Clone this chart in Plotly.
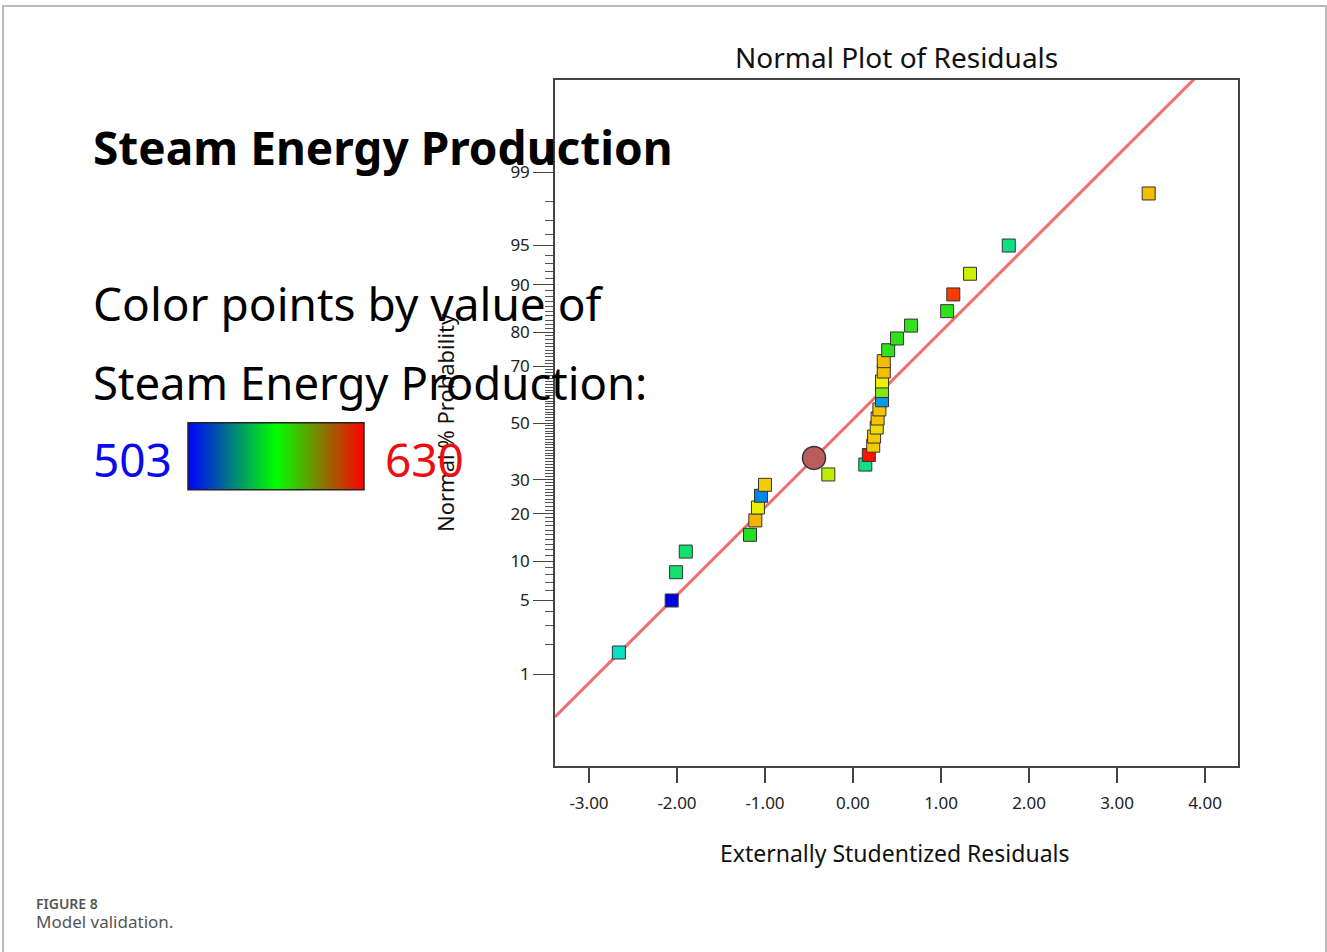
import plotly.graph_objects as go
from statistics import NormalDist

# ---------------- data ----------------
# Externally studentized residuals (x) of the 30 runs, in rank order
residuals = [-2.66, -2.06, -2.01, -1.90, -1.17, -1.11, -1.08, -1.045, -1.00, -0.28,
             0.14, 0.18, 0.23, 0.24, 0.27, 0.28, 0.30, 0.33, 0.33, 0.33,
             0.35, 0.35, 0.40, 0.50, 0.66, 1.07, 1.14, 1.33, 1.77, 3.36]
# Normal % probability of each point
probability = [1.67, 5.0, 8.33, 11.67, 15.0, 18.33, 21.67, 25.0, 28.33, 31.67,
               35.0, 38.33, 41.67, 45.0, 48.33, 51.67, 55.0, 58.33, 61.67, 65.0,
               68.33, 71.67, 75.0, 78.33, 81.67, 85.0, 88.33, 91.67, 95.0, 98.33]
# Steam Energy Production value used to colour each point
steam_energy = [541, 503, 554, 554, 566, 606, 597, 522, 603, 591,
                551, 628, 603, 603, 601, 604, 604, 525, 582, 598,
                605, 605, 569, 569, 569, 569, 622, 593, 551, 605]

# highlighted point (circle)
circle_residual = [-0.443]
circle_probability = [37.3]

# normal reference line  (z = intercept + slope * residual)
line_slope = 0.814
line_intercept = 0.032

color_min, color_max = 503, 630

x_ticks = [-3, -2, -1, 0, 1, 2, 3, 4]
y_tick_pct = [1, 5, 10, 20, 30, 50, 70, 80, 90, 95, 99]
y_minor_pct = [p for p in range(2, 99) if p not in y_tick_pct]

# ---------------- helpers ----------------
nd = NormalDist()
def probit(p):
    return nd.inv_cdf(p / 100.0)

W, H = 1327, 952
L, R, T, B = 555, 1238, 80, 766
def px2x(px):
    return (px - L) / (R - L)
def py2y(py):
    return (B - py) / (B - T)

x_range = [-3.386, 4.375]
y_range = [-3.179, 3.179]

FONT = "Noto Sans"

point_scale = [[0.0, "rgb(0,0,230)"], [0.25, "rgb(0,225,235)"], [0.5, "rgb(30,225,30)"],
               [0.75, "rgb(240,240,0)"], [1.0, "rgb(255,0,0)"]]
legend_scale = [[0.0, "rgb(0,0,255)"], [0.5, "rgb(0,255,0)"], [1.0, "rgb(255,0,0)"]]

fig = go.Figure()

# reference line
fig.add_trace(go.Scatter(
    x=x_range,
    y=[line_intercept + line_slope * v for v in x_range],
    mode="lines", line=dict(color="rgb(240,110,110)", width=3),
    hoverinfo="skip", showlegend=False))

# residual points
fig.add_trace(go.Scatter(
    x=residuals, y=[probit(p) for p in probability],
    mode="markers", showlegend=False,
    marker=dict(symbol="square", size=13, color=steam_energy,
                cmin=color_min, cmax=color_max, colorscale=point_scale,
                showscale=False, line=dict(color="#333333", width=1))))

# highlighted circle
fig.add_trace(go.Scatter(
    x=circle_residual, y=[probit(p) for p in circle_probability],
    mode="markers", showlegend=False,
    marker=dict(symbol="circle", size=23, color="rgb(185,92,92)",
                line=dict(color="#333333", width=1.5))))

# legend gradient (colour bar)
fig.add_trace(go.Scatter(
    x=[None], y=[None], mode="markers", showlegend=False, hoverinfo="skip",
    marker=dict(color=[color_min], cmin=color_min, cmax=color_max,
                colorscale=legend_scale, showscale=True,
                colorbar=dict(orientation="h", lenmode="pixels", len=176,
                              thicknessmode="pixels", thickness=67,
                              x=px2x(276), xanchor="center",
                              y=py2y(457.5), yanchor="middle",
                              xpad=0, ypad=0, showticklabels=False, ticks="",
                              outlinewidth=1.5, outlinecolor="#222222"))))

fig.update_xaxes(
    range=x_range, tickmode="array", tickvals=x_ticks,
    ticktext=[f"{v:.2f}" for v in x_ticks],
    ticks="outside", ticklen=15, tickwidth=1.5, tickcolor="#444444",
    ticklabelstandoff=6,
    showline=True, linecolor="#444444", linewidth=1.5, mirror=True,
    showgrid=False, zeroline=False,
    tickfont=dict(family=FONT, size=17, color="#222222"))

fig.update_yaxes(
    range=y_range, tickmode="array",
    tickvals=[probit(p) for p in y_tick_pct],
    ticktext=[str(p) for p in y_tick_pct],
    ticks="outside", ticklen=20, tickwidth=1.2, tickcolor="#444444",
    minor=dict(tickvals=[probit(p) for p in y_minor_pct], ticks="outside",
               ticklen=8, tickwidth=1, tickcolor="#555555", showgrid=False),
    showline=True, linecolor="#444444", linewidth=1.5, mirror=True,
    showgrid=False, zeroline=False,
    tickfont=dict(family=FONT, size=17, color="#222222"))

annotations = [
    dict(text="Normal Plot of Residuals", x=px2x(896), y=py2y(57),
         xanchor="center", yanchor="middle", font=dict(family=FONT, size=28, color="#111111")),
    dict(text="Externally Studentized Residuals", x=px2x(895), y=py2y(853),
         xanchor="center", yanchor="middle", font=dict(family=FONT, size=23, color="#111111")),
    dict(text="Normal % Probability", x=px2x(445), y=py2y(423), textangle=-90,
         xanchor="center", yanchor="middle", font=dict(family=FONT, size=22, color="#111111")),
    dict(text="<b>Steam Energy Production</b>", x=px2x(91), y=py2y(147),
         xanchor="left", yanchor="middle", font=dict(family=FONT, size=46, color="#000000")),
    dict(text="Color points by value of", x=px2x(91), y=py2y(303),
         xanchor="left", yanchor="middle", font=dict(family=FONT, size=46, color="#000000")),
    dict(text="Steam Energy Production:", x=px2x(91), y=py2y(382),
         xanchor="left", yanchor="middle", font=dict(family=FONT, size=45.5, color="#000000")),
    dict(text=str(color_min), x=px2x(91), y=py2y(459),
         xanchor="left", yanchor="middle", font=dict(family=FONT, size=46, color="rgb(10,10,235)")),
    dict(text=str(color_max), x=px2x(383), y=py2y(459),
         xanchor="left", yanchor="middle", font=dict(family=FONT, size=46, color="rgb(235,15,15)")),
    dict(text="FIGURE 8", x=px2x(34), y=py2y(903),
         xanchor="left", yanchor="middle", font=dict(family=FONT, size=14, color="#555555", weight=600)),
    dict(text="Model validation.", x=px2x(34), y=py2y(921),
         xanchor="left", yanchor="middle", font=dict(family=FONT, size=17, color="#555555")),
]
for a in annotations:
    a.update(xref="paper", yref="paper", showarrow=False)

fig.update_layout(
    width=W, height=H,
    margin=dict(l=L, r=W - R, t=T, b=H - B),
    paper_bgcolor="white", plot_bgcolor="white",
    annotations=annotations,
    shapes=[dict(type="rect", xref="paper", yref="paper",
                 x0=px2x(3), x1=px2x(1326), y0=py2y(965), y1=py2y(6),
                 line=dict(color="#bbbbbb", width=2), layer="below")],
    showlegend=False,
)

fig.write_html("out.html", config={"displayModeBar": False},
               post_script="document.body.style.margin='0';document.body.style.overflow='hidden';")
